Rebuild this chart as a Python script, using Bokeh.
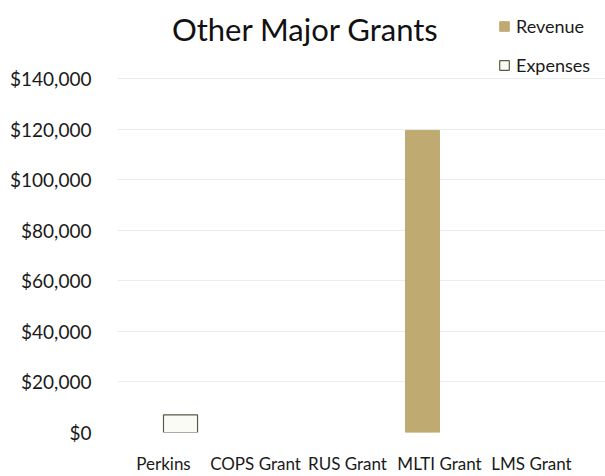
from bokeh.plotting import figure
from bokeh.models import (ColumnDataSource, Range1d, FixedTicker,
                          NumeralTickFormatter, Legend, LegendItem, Label, CDSView, BooleanFilter)
from bokeh.embed import file_html
from bokeh.resources import INLINE

categories = ["Perkins", "COPS Grant", "RUS Grant", "MLTI Grant", "LMS Grant"]
revenue = [0, 0, 0, 119500, 0]
expenses = [7000, 0, 0, 0, 0]
y_ticks = [0, 20000, 40000, 60000, 80000, 100000, 120000, 140000]
title_text = "Other Major Grants"

FONT = "Lato"
idx = list(range(len(categories)))
src = ColumnDataSource(dict(
    pos=idx, cat=categories, revenue=revenue, expenses=expenses,
    rx=[i - 0.185 for i in idx], ex=[i + 0.185 for i in idx]))

p = figure(width=605, height=476, output_backend="svg", toolbar_location=None,
           x_range=Range1d(-0.5, 4.804),
           y_range=Range1d(0, 170112),
           min_border_left=117, min_border_right=0,
           min_border_top=2, min_border_bottom=39)
p.outline_line_color = None
p.background_fill_color = "white"
p.border_fill_color = "white"

view_r = CDSView(filter=BooleanFilter([v > 0 for v in revenue]))
view_e = CDSView(filter=BooleanFilter([v > 0 for v in expenses]))
r1 = p.vbar(x="rx", top="revenue", width=0.37, source=src, view=view_r,
            fill_color="#bfaa72", line_color="#bfaa72")
r2 = p.vbar(x="ex", top="expenses", width=0.37, source=src, view=view_e,
            fill_color="#fbfbf6", line_color="#5a5a44", line_width=1.2)

p.xaxis.ticker = FixedTicker(ticks=idx)
p.xaxis.major_label_overrides = {i: c for i, c in zip(idx, categories)}
p.yaxis.ticker = FixedTicker(ticks=y_ticks)
p.yaxis.formatter = NumeralTickFormatter(format="$0,0")
for ax in (p.xaxis[0], p.yaxis[0]):
    ax.axis_line_color = None
    ax.major_tick_line_color = None
    ax.minor_tick_line_color = None
    ax.major_label_text_font = FONT
    ax.major_label_text_color = "#1a1a1a"
p.yaxis.major_label_text_font_size = "19px"
p.xaxis.major_label_text_font_size = "17px"
p.yaxis.major_label_standoff = 20
p.xaxis.major_label_standoff = 14

p.xgrid.grid_line_color = None
p.ygrid.grid_line_color = "#ececec"
p.ygrid.ticker = FixedTicker(ticks=y_ticks)

p.add_layout(Label(x=188, y=404, x_units="screen", y_units="screen",
                   text=title_text, text_font=FONT, text_font_size="31px",
                   text_color="#111111", text_align="center", text_baseline="middle"))

legend = Legend(items=[LegendItem(label="Revenue", renderers=[r1]),
                       LegendItem(label="Expenses", renderers=[r2])],
                location=(381, 356), orientation="vertical",
                label_text_font=FONT, label_text_font_size="18px",
                label_text_color="#1a1a1a", glyph_width=12, glyph_height=12,
                label_standoff=6, spacing=17, padding=2, margin=0,
                border_line_color=None, background_fill_alpha=0)
p.add_layout(legend, "center")

open("out.html", "w").write(file_html(p, INLINE))
